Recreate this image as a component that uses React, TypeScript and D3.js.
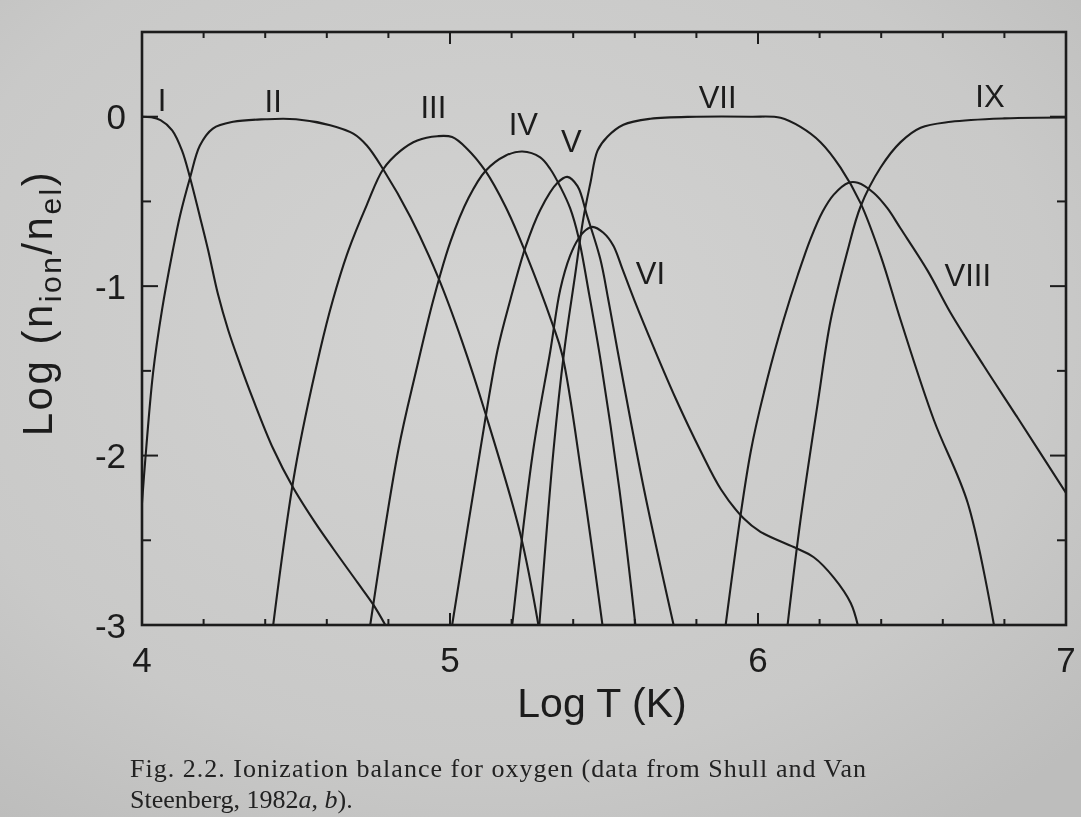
import React from "react";
import * as d3 from "d3";

// ---- Data ----
type P = [number, number];

const ionI: P[] = [[4.0,0],[4.03,-0.003],[4.06,-0.02],[4.098,-0.08],[4.13,-0.2],[4.156,-0.36],[4.188,-0.59],[4.215,-0.79],[4.247,-1.05],[4.28,-1.26],[4.318,-1.46],[4.361,-1.67],[4.426,-1.96],[4.491,-2.19],[4.56,-2.39],[4.621,-2.55],[4.70,-2.75],[4.751,-2.88],[4.79,-3.0]];
const ionII: P[] = [[4.0,-2.28],[4.01,-2.04],[4.036,-1.51],[4.065,-1.14],[4.10,-0.79],[4.124,-0.58],[4.156,-0.36],[4.188,-0.17],[4.23,-0.07],[4.296,-0.03],[4.4,-0.015],[4.5,-0.015],[4.611,-0.05],[4.686,-0.1],[4.73,-0.17],[4.783,-0.31],[4.871,-0.59],[4.962,-0.95],[5.04,-1.33],[5.115,-1.75],[5.228,-2.46],[5.287,-3.0]];
const ionIII: P[] = [[4.426,-3.0],[4.497,-2.085],[4.578,-1.38],[4.62,-1.08],[4.67,-0.79],[4.73,-0.52],[4.783,-0.31],[4.84,-0.2],[4.894,-0.14],[4.959,-0.115],[5.007,-0.12],[5.056,-0.19],[5.115,-0.32],[5.18,-0.53],[5.238,-0.77],[5.332,-1.22],[5.365,-1.41],[5.43,-2.15],[5.495,-3.0]];
const ionIV: P[] = [[4.741,-3.0],[4.832,-1.97],[4.89,-1.5],[4.946,-1.08],[5.001,-0.74],[5.06,-0.48],[5.115,-0.32],[5.18,-0.23],[5.235,-0.205],[5.293,-0.24],[5.326,-0.31],[5.36,-0.42],[5.39,-0.54],[5.417,-0.71],[5.452,-1.05],[5.49,-1.45],[5.55,-2.2],[5.602,-3.0]];
const ionV: P[] = [[5.007,-3.0],[5.098,-1.97],[5.154,-1.38],[5.196,-1.08],[5.245,-0.77],[5.293,-0.55],[5.349,-0.39],[5.381,-0.355],[5.414,-0.41],[5.446,-0.59],[5.488,-0.84],[5.514,-1.08],[5.544,-1.38],[5.63,-2.2],[5.726,-3.0]];
const ionVI: P[] = [[5.202,-3.0],[5.27,-1.97],[5.326,-1.38],[5.358,-1.02],[5.39,-0.82],[5.417,-0.72],[5.44,-0.67],[5.463,-0.65],[5.498,-0.685],[5.53,-0.76],[5.56,-0.9],[5.6,-1.09],[5.661,-1.36],[5.732,-1.66],[5.813,-1.97],[5.88,-2.2],[5.953,-2.37],[6.008,-2.45],[6.116,-2.54],[6.181,-2.6],[6.246,-2.72],[6.301,-2.87],[6.324,-3.0]];
const ionVII: P[] = [[5.29,-3.0],[5.336,-1.97],[5.371,-1.38],[5.405,-0.95],[5.433,-0.6],[5.456,-0.39],[5.479,-0.2],[5.511,-0.118],[5.563,-0.047],[5.651,-0.012],[5.8,0],[5.976,0],[6.073,-0.006],[6.138,-0.06],[6.203,-0.15],[6.268,-0.30],[6.333,-0.51],[6.40,-0.83],[6.463,-1.2],[6.571,-1.79],[6.681,-2.28],[6.766,-3.0]];
const ionVIII: P[] = [[5.895,-3.0],[5.976,-1.98],[6.03,-1.55],[6.083,-1.2],[6.13,-0.93],[6.171,-0.72],[6.21,-0.56],[6.246,-0.46],[6.294,-0.39],[6.324,-0.39],[6.376,-0.45],[6.42,-0.54],[6.463,-0.66],[6.551,-0.91],[6.626,-1.16],[6.733,-1.47],[6.844,-1.78],[7.0,-2.22]];
const ionIX: P[] = [[6.096,-3.0],[6.138,-2.38],[6.194,-1.69],[6.236,-1.2],[6.291,-0.79],[6.333,-0.53],[6.398,-0.30],[6.463,-0.15],[6.528,-0.065],[6.626,-0.03],[6.8,-0.01],[7.0,-0.005]];

const seriesList: P[][] = [ionI, ionII, ionIII, ionIV, ionV, ionVI, ionVII, ionVIII, ionIX];

const ionNames = ["I", "II", "III", "IV", "V", "VI", "VII", "VIII", "IX"];
const ionLabelX = [4.065, 4.426, 4.946, 5.238, 5.394, 5.651, 5.869, 6.681, 6.753];
const ionLabelY = [0.034, 0.03, -0.006, -0.106, -0.207, -0.99, 0.053, -1.0, 0.059];

const xTickLabels = [4, 5, 6, 7];
const yTickLabels = [0, -1, -2, -3];

const caption1 = "Fig. 2.2. Ionization balance for oxygen (data from Shull and Van";

// ---- Layout ----
const W = 1081, H = 817;
const x = d3.scaleLinear().domain([4, 7]).range([142, 1066]);
const y = d3.scaleLinear().domain([-3, 0.5]).range([625, 32]);

const ink = "#1c1c1c";
const sans = "'Liberation Sans', Arial, Helvetica, sans-serif";
const serif = "'Liberation Serif', 'DejaVu Serif', serif";

export default function App() {
  const line = d3.line<P>().x(d => x(d[0])).y(d => y(d[1])).curve(d3.curveCatmullRom.alpha(0.5));
  const [x0, x1] = x.range();
  const [yb, yt] = y.range();
  const xMinor = d3.range(4, 7.0001, 0.2).map(v => +v.toFixed(2));
  const yMinor = d3.range(-3, 0.0001, 0.5).map(v => +v.toFixed(2));
  const isInt = (v: number) => Math.abs(v - Math.round(v)) < 1e-6;

  return (
    <svg width={W} height={H} style={{ position: "fixed", left: 0, top: 0 }} xmlns="http://www.w3.org/2000/svg">
      <defs>
        <radialGradient id="paper" cx="45%" cy="40%" r="75%">
          <stop offset="0%" stopColor="#d3d3d2" />
          <stop offset="70%" stopColor="#c9c9c8" />
          <stop offset="100%" stopColor="#bdbdbc" />
        </radialGradient>
        <clipPath id="plotclip">
          <rect x={x0} y={yt} width={x1 - x0} height={yb - yt} />
        </clipPath>
      </defs>
      <rect x={0} y={0} width={W} height={H} fill="url(#paper)" />

      {/* curves */}
      <g clipPath="url(#plotclip)" fill="none" stroke={ink} strokeWidth={2.1}>
        {seriesList.map((s, i) => (
          <path key={i} d={line(s) || ""} />
        ))}
      </g>

      {/* frame */}
      <rect x={x0} y={yt} width={x1 - x0} height={yb - yt} fill="none" stroke={ink} strokeWidth={2.6} />

      {/* ticks (all four sides, inward) */}
      <g stroke={ink} strokeWidth={2}>
        {xMinor.map((v, i) => {
          const L = isInt(v) ? 12 : 6;
          return (
            <g key={i}>
              <line x1={x(v)} x2={x(v)} y1={yb} y2={yb - L} />
              <line x1={x(v)} x2={x(v)} y1={yt} y2={yt + L} />
            </g>
          );
        })}
        {yMinor.map((v, i) => {
          const L = isInt(v) ? 16 : 9;
          return (
            <g key={"y" + i}>
              <line x1={x0} x2={x0 + L} y1={y(v)} y2={y(v)} />
              <line x1={x1} x2={x1 - L} y1={y(v)} y2={y(v)} />
            </g>
          );
        })}
      </g>

      {/* tick labels */}
      <g fill={ink} fontFamily={sans} fontSize={35}>
        {xTickLabels.map(v => (
          <text key={v} x={x(v)} y={672} textAnchor="middle">{v}</text>
        ))}
        {yTickLabels.map(v => (
          <text key={v} x={126} y={y(v)} dy="0.36em" textAnchor="end">{v === 0 ? "0" : "-" + Math.abs(v)}</text>
        ))}
      </g>

      {/* axis titles */}
      <text x={602} y={717} textAnchor="middle" fontFamily={sans} fontSize={41} fill={ink}>Log T (K)</text>
      <text transform="translate(52,303) rotate(-90)" textAnchor="middle" fontFamily={sans} fontSize={42} fill={ink} letterSpacing={2.5}>
        Log (n<tspan fontSize={30} dy={9}>ion</tspan><tspan dy={-9}>/n</tspan><tspan fontSize={30} dy={9}>el</tspan><tspan dy={-9}>)</tspan>
      </text>

      {/* ion labels */}
      <g fill={ink} fontFamily={sans} fontSize={31}>
        {ionNames.map((n, i) => (
          <text key={n} x={x(ionLabelX[i])} y={y(ionLabelY[i])} textAnchor="middle">{n}</text>
        ))}
      </g>

      {/* caption */}
      <g fill="#222" fontFamily={serif} fontSize={26}>
        <text x={130} y={777} textLength={736} lengthAdjust="spacing">{caption1}</text>
        <text x={130} y={808}>Steenberg, 1982<tspan fontStyle="italic">a</tspan>, <tspan fontStyle="italic">b</tspan>).</text>
      </g>
    </svg>
  );
}
